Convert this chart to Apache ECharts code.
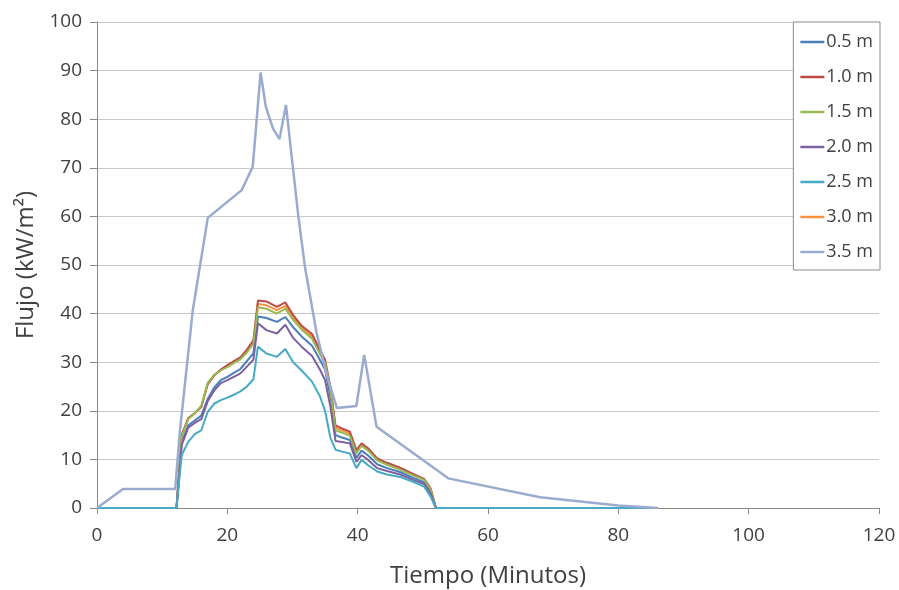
<!DOCTYPE html>
<html>
<head>
<meta charset="utf-8">
<script src="https://cdn.jsdelivr.net/npm/echarts@6/dist/echarts.min.js"></script>
<style>
html,body{margin:0;padding:0;background:#fff;}
#chart{width:899px;height:590px;}
</style>
</head>
<body>
<div id="chart"></div>
<script>
// ---- data ----
const timeMin = [0, 12.2, 13, 14, 15, 16, 17, 18, 19, 20, 21, 22, 23, 24, 24.7, 26, 27.6, 28.9, 30.1, 31.4, 33, 34.2, 35, 35.8, 36.6, 37.6, 38.8, 39.8, 40.6, 41.6, 43, 44.5, 46.5, 48.5, 50.2, 51.2, 52, 86];
const flux05 = [0, 0, 13.5, 17.0, 18.0, 19.0, 22.5, 24.8, 26.3, 27.0, 27.8, 28.6, 30.2, 31.8, 39.4, 39.1, 38.3, 39.3, 37.2, 35.3, 33.4, 30.5, 28.5, 23.0, 15.0, 14.5, 14.0, 10.3, 11.8, 10.8, 9.0, 8.2, 7.4, 6.2, 5.3, 3.4, 0, 0];
const flux10 = [0, 0, 15.0, 18.5, 19.5, 20.8, 25.5, 27.3, 28.5, 29.4, 30.2, 31.0, 32.6, 34.5, 42.7, 42.5, 41.4, 42.3, 39.7, 37.5, 35.8, 32.5, 30.5, 25.0, 17.0, 16.4, 15.7, 11.9, 13.3, 12.3, 10.2, 9.3, 8.3, 7.0, 6.0, 4.0, 0, 0];
const flux15 = [0, 0, 14.6, 18.3, 19.5, 21.0, 25.8, 27.4, 28.3, 29.0, 29.8, 30.6, 32.0, 33.8, 41.3, 41.0, 40.0, 41.0, 38.7, 36.7, 34.8, 31.7, 29.8, 24.3, 16.0, 15.5, 14.9, 11.2, 12.8, 11.8, 9.8, 8.9, 7.9, 6.7, 5.8, 3.8, 0, 0];
const flux20 = [0, 0, 13.0, 16.5, 17.5, 18.3, 22.0, 24.2, 25.7, 26.3, 27.0, 27.7, 29.1, 30.5, 38.0, 36.6, 35.9, 37.7, 35.0, 33.2, 31.3, 28.5, 26.3, 21.0, 13.8, 13.6, 13.3, 9.5, 10.9, 9.9, 8.2, 7.6, 6.9, 5.8, 4.9, 3.0, 0, 0];
const flux25 = [0, 0, 10.9, 13.6, 15.2, 16.0, 19.8, 21.5, 22.2, 22.7, 23.3, 24.0, 25.0, 26.5, 33.2, 31.8, 31.1, 32.7, 30.0, 28.3, 26.0, 23.0, 20.0, 14.5, 12.0, 11.6, 11.2, 8.2, 9.9, 8.8, 7.5, 6.9, 6.4, 5.4, 4.4, 2.3, 0, 0];
const flux30 = [0, 0, 14.8, 18.4, 19.5, 20.9, 25.6, 27.3, 28.4, 29.2, 30.0, 30.8, 32.3, 34.1, 42.0, 41.7, 40.7, 41.6, 39.2, 37.1, 35.3, 32.1, 30.1, 24.6, 16.5, 16.0, 15.3, 11.5, 13.0, 12.0, 10.0, 9.1, 8.1, 6.8, 5.9, 3.9, 0, 0];
const time35 = [0, 4, 12, 12.7, 14.7, 17, 22.2, 23.9, 25.1, 25.9, 27, 28, 29, 30.9, 31.9, 33.7, 35.2, 36.8, 39.8, 41, 42.9, 53.9, 68, 80, 86];
const flux35 = [0, 3.9, 3.9, 15.5, 40.7, 59.7, 65.4, 70.2, 89.6, 82.6, 78.1, 75.9, 82.9, 60.0, 49.7, 36.0, 27.7, 20.6, 21.0, 31.5, 16.7, 6.1, 2.2, 0.5, 0];

const seriesNames = ['0.5 m', '1.0 m', '1.5 m', '2.0 m', '2.5 m', '3.0 m', '3.5 m'];
const xTicks = [0, 20, 40, 60, 80, 100, 120];
const yTicks = [0, 10, 20, 30, 40, 50, 60, 70, 80, 90, 100];

const colors = {
  '0.5 m': '#4a7ebb',
  '1.0 m': '#be4b48',
  '1.5 m': '#98b954',
  '2.0 m': '#7d60a0',
  '2.5 m': '#46aac5',
  '3.0 m': '#f69240',
  '3.5 m': '#9aabcf'
};

function pairs(xs, ys) { return xs.map((x, i) => [x, ys[i]]); }

function mk(name, xs, ys, w) {
  return {
    name: name, type: 'line', data: pairs(xs, ys),
    showSymbol: false, symbol: 'none',
    lineStyle: { color: colors[name], width: w || 2 },
    itemStyle: { color: colors[name] },
    emphasis: { disabled: true }
  };
}

const font = '"Open Sans", sans-serif';
const chart = echarts.init(document.getElementById('chart'), null, { renderer: 'canvas' });
chart.setOption({
  animation: false,
  backgroundColor: '#ffffff',
  grid: { left: 97, right: 20, top: 22, bottom: 82, containLabel: false, outerBoundsMode: 'none' },
  legend: {
    data: seriesNames.map(n => ({ name: n, icon: 'rect', itemStyle: { color: colors[n] } })),
    orient: 'vertical', right: 19, top: 22,
    itemWidth: 24, itemHeight: 2.5, itemGap: 17,
    padding: [11, 7, 9, 7],
    borderColor: '#8c8c8c', borderWidth: 1, backgroundColor: '#ffffff',
    textStyle: { fontFamily: font, fontSize: 18, color: '#404040', padding: [0, 0, 0, -3] }
  },
  xAxis: {
    type: 'value', min: 0, max: 120, interval: 20,
    name: 'Tiempo (Minutos)', nameLocation: 'middle', nameGap: 56,
    nameTextStyle: { fontFamily: font, fontSize: 24, color: '#404040' },
    axisLine: { show: true, lineStyle: { color: '#8a8a8a', width: 1 } },
    axisTick: { show: true, length: 6, lineStyle: { color: '#8a8a8a' } },
    axisLabel: { fontFamily: font, fontSize: 19, color: '#404040', margin: 18 },
    splitLine: { show: false }
  },
  yAxis: {
    type: 'value', min: 0, max: 100, interval: 10,
    name: 'Flujo (kW/m²)', nameLocation: 'middle', nameGap: 54, nameRotate: 90,
    nameTextStyle: { fontFamily: font, fontSize: 24, color: '#404040' },
    axisLine: { show: true, lineStyle: { color: '#8a8a8a', width: 1 } },
    axisTick: { show: true, length: 7, lineStyle: { color: '#8a8a8a' } },
    axisLabel: { fontFamily: font, fontSize: 19, color: '#404040', margin: 15 },
    splitLine: { show: true, lineStyle: { color: '#c9c9c9', width: 1 } }
  },
  series: [
    mk('3.0 m', timeMin, flux30),
    mk('0.5 m', timeMin, flux05),
    mk('1.0 m', timeMin, flux10),
    mk('1.5 m', timeMin, flux15),
    mk('2.0 m', timeMin, flux20),
    mk('2.5 m', timeMin, flux25),
    mk('3.5 m', time35, flux35, 2.5)
  ]
});
</script>
</body>
</html>
